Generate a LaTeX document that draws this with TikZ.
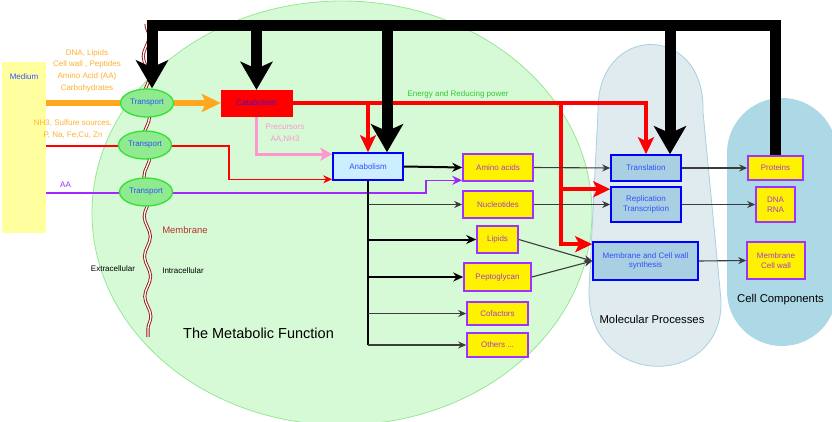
\documentclass[tikz,border=0pt]{standalone}
\usepackage{fontspec}
\setmainfont{Liberation Sans}
\usetikzlibrary{arrows.meta,shapes.geometric,decorations.pathmorphing,calc}
\pgfdeclarelayer{bg}
\pgfdeclarelayer{lines}
\pgfdeclarelayer{fg}
\pgfsetlayers{bg,lines,main,fg}
\definecolor{cellfill}{RGB}{214,250,214}
\definecolor{celldraw}{RGB}{150,232,150}
\definecolor{mpfill}{RGB}{223,235,239}
\definecolor{mpdraw}{RGB}{168,208,224}
\definecolor{ccfill}{RGB}{173,216,230}
\definecolor{mediumfill}{RGB}{255,255,160}
\definecolor{orangec}{RGB}{255,168,30}
\definecolor{orangetxt}{RGB}{255,176,50}
\definecolor{purplec}{RGB}{160,40,255}
\definecolor{prodborder}{RGB}{160,50,255}
\definecolor{prodtext}{RGB}{170,60,200}
\definecolor{proctext}{RGB}{50,80,255}
\definecolor{procfill}{RGB}{168,208,226}
\definecolor{anafill}{RGB}{204,238,255}
\definecolor{catatext}{RGB}{70,20,200}
\definecolor{trfill}{RGB}{144,234,144}
\definecolor{trdraw}{RGB}{50,225,50}
\definecolor{pinkc}{RGB}{255,150,210}
\definecolor{greentxt}{RGB}{50,200,50}
\definecolor{membc}{RGB}{150,20,20}
\definecolor{membtxt}{RGB}{180,50,50}
\definecolor{greyc}{RGB}{60,60,60}
\begin{document}
\begin{tikzpicture}[x=1pt,y=-1pt,
  fs/.style={font=\fontsize{8}{9.6}\selectfont},
  prod/.style={fs,draw=prodborder,fill=yellow,line width=1.6pt,text=prodtext,align=center,inner sep=0pt},
  proc/.style={fs,draw=blue,fill=procfill,line width=1.6pt,text=proctext,align=center,inner sep=0pt},
  transp/.style={ellipse,fs,draw=trdraw,fill=trfill,line width=1.3pt,minimum width=53pt,minimum height=28pt,text=proctext,inner sep=0pt},
  thinarr/.style={draw=greyc,line width=1.1pt,-{Stealth[length=8pt,width=7pt]}},
  thickarr/.style={draw=black,line width=2pt,-{Stealth[length=10pt,width=9pt]}},
  bus/.style={draw=black,line width=11pt,line join=miter},
  bustip/.style={-{Stealth[length=28pt,width=32pt,inset=7pt]}},
  energy/.style={draw=red,line width=4.5pt,line join=miter},
  redtip/.style={-{Stealth[length=17pt,width=16pt,inset=4pt]}},
  lbl/.style={fs,align=center,inner sep=0pt}]
\useasboundingbox (0,0) rectangle (832,422);

% background regions
\begin{pgfonlayer}{bg}
\begin{scope}
\clip (0,0) rectangle (832,422);
\fill[white] (0,0) rectangle (832,422);
\draw[fill=cellfill,draw=celldraw,line width=0.8pt] (342,213) ellipse [x radius=250pt, y radius=212pt];
\draw[fill=mpfill,draw=mpdraw,line width=0.8pt] (598,112) .. controls (596,22) and (706,22) .. (703,112)
  -- (721,300) .. controls (724,390) and (587,390) .. (589,290) -- cycle;
\fill[ccfill,rounded corners=55pt] (727,98) rectangle (837,346);
\end{scope}
\end{pgfonlayer}

\node[fill=mediumfill,minimum width=44pt,minimum height=171pt,inner sep=0pt] (medium) at (24,147.5) {};
\node[lbl,text=proctext] (mediumlbl) at (24,77) {Medium};

% nodes
\node[transp] (t1) at (147,103) {Transport};
\node[transp] (t2) at (145,145) {Transport};
\node[transp] (t3) at (146,192) {Transport};
\node[fs,fill=red,draw=red,minimum width=71pt,minimum height=26pt,inner sep=0pt,text=catatext] (cata) at (256.5,103) {Catabolism};
\node[proc,fill=anafill,minimum width=70pt,minimum height=27pt] (ana) at (368,166.5) {Anabolism};

\node[prod,minimum width=70pt,minimum height=27pt] (amino) at (498,167.5) {Amino acids};
\node[prod,minimum width=70pt,minimum height=27pt] (nuc) at (498,204.5) {Nucleotides};
\node[prod,minimum width=41pt,minimum height=27pt] (lip) at (497.5,239.5) {Lipids};
\node[prod,minimum width=67pt,minimum height=28pt] (pep) at (497.5,277) {Peptoglycan};
\node[prod,minimum width=61pt,minimum height=23pt] (cof) at (497.5,313.5) {Cofactors};
\node[prod,minimum width=61pt,minimum height=24pt] (oth) at (497.5,345) {Others ...};

\node[proc,minimum width=70pt,minimum height=26pt] (trans) at (646,168) {Translation};
\node[proc,minimum width=70pt,minimum height=35pt] (rep) at (646,204.5) {Replication\\Transcription};
\node[proc,minimum width=105pt,minimum height=38pt] (msyn) at (645.5,261) {Membrane and Cell wall\\synthesis};

\node[prod,minimum width=55pt,minimum height=24pt] (prot) at (775.5,168) {Proteins};
\node[prod,minimum width=39pt,minimum height=35pt] (dna) at (775.5,204.5) {DNA\\RNA};
\node[prod,minimum width=58pt,minimum height=37pt] (mcw) at (776,260.5) {Membrane\\Cell wall};

% text labels
\node[lbl,text=orangetxt,font=\fontsize{8}{11.7}\selectfont] (srcA) at (87,70.5) {DNA, Lipids\\Cell wall , Peptides\\Amino Acid (AA)\\Carbohydrates};
\node[lbl,text=orangetxt,font=\fontsize{8}{11.7}\selectfont] (srcB) at (73,129) {NH3, Sulfure sources,\\P, Na, Fe,Cu, Zn};
\node[lbl,text=purplec] (aalbl) at (65.5,185) {AA};
\node[lbl,text=pinkc,font=\fontsize{8}{11.5}\selectfont] (prec) at (285,133.5) {Precursors\\AA,NH3};
\node[lbl,text=greentxt] (energylbl) at (458,94) {Energy and Reducing power};
\node[lbl,text=membtxt,font=\fontsize{9.5}{11}\selectfont] (memblbl) at (185,230) {Membrane};
\node[lbl] (extra) at (113,269) {Extracellular};
\node[lbl] (intra) at (183,271) {Intracellular};
\node[lbl,font=\fontsize{14.5}{17}\selectfont] (metab) at (258.5,333) {The Metabolic Function};
\node[lbl,font=\fontsize{11.3}{13}\selectfont] (mplbl) at (652,319) {Molecular Processes};
\node[lbl,font=\fontsize{11.3}{13}\selectfont] (cclbl) at (780.5,300) {Cell Components};

% coordinates
\coordinate (busL) at (152,26);
\coordinate (busR) at (776,26);
\coordinate (rtop) at (561,103);
\coordinate (repin) at ([yshift=-3pt]rep.north west);
\coordinate (msynin) at ([yshift=-3pt]msyn.north west);
\coordinate (redturn) at (229,146);
\coordinate (purpturn) at (426,193);
\coordinate (anain) at ([yshift=1.5pt]ana.south west);
\coordinate (aminoin) at ([yshift=1.5pt]amino.south west);
\coordinate (pinkin) at ([yshift=-2pt]ana.north west);
\coordinate (anadrop) at ([xshift=19pt]ana.north);
\coordinate (transdrop) at ([xshift=24pt]trans.north);
\coordinate (membtop) at (146,24);
\coordinate (membbot) at (148,337);

% connectors
\begin{pgfonlayer}{lines}
\draw[membc,double=white,double distance=1.3pt,line width=0.9pt,decorate,decoration={snake,segment length=40pt,amplitude=3pt}] (membtop) -- (membbot);
\draw[orangec,line width=5.5pt,-{Stealth[length=19pt,width=18pt,inset=4pt]}] (medium.east |- t1) -- (t1) -- (cata.west);
\draw[red,line width=1.3pt,-{Stealth[length=9pt,width=8pt]}] (medium.east |- redturn) -- (redturn) -- (redturn |- anain) -- (anain);
\draw[purplec,line width=1.5pt,-{Stealth[length=10pt,width=9pt]}] (medium.east |- purpturn) -- (purpturn) -- (purpturn |- aminoin) -- (aminoin);
\draw[pinkc,line width=3pt,-{Stealth[length=12pt,width=13pt,inset=3pt]}] (cata.south) -- (cata.south |- pinkin) -- (pinkin);

\draw[energy,redtip] (cata.east) -- (cata.east -| trans.north) -- (trans.north);
\draw[energy,redtip] (cata.east -| ana.north) -- (ana.north);
\draw[energy,redtip] (rtop) -- (rtop |- msynin) -- (msynin);
\draw[energy,redtip] (rtop |- repin) -- (repin);

\draw[thickarr] (ana.east) -- (amino.west);
\draw[black,line width=2pt] (ana.south) -- (ana.south |- oth.west);
\draw[thinarr] (ana.south |- nuc.west) -- (nuc.west);
\draw[thickarr] (ana.south |- lip.west) -- (lip.west);
\draw[thickarr] (ana.south |- pep.west) -- (pep.west);
\draw[thinarr] (ana.south |- cof.west) -- (cof.west);
\draw[thinarr] (ana.south |- oth.west) -- (oth.west);

\draw[thinarr] (amino.east) -- (trans.west);
\draw[thinarr] (nuc.east) -- (rep.west);
\draw[thinarr] (lip.east) -- (msyn.west);
\draw[thinarr] (pep.east) -- (msyn.west);
\draw[thinarr] (trans.east) -- (prot.west);
\draw[thinarr] (rep.east) -- (dna.west);
\draw[thinarr] (msyn.east) -- (mcw.west);
\end{pgfonlayer}

% black control bus
\begin{pgfonlayer}{fg}
\draw[bus,bustip] (prot.north) -- (prot.north |- busR) -- (busL) -- (busL |- t1.north);
\draw[bus,bustip] (cata.north |- busL) -- (cata.north);
\draw[bus,bustip] (anadrop |- busL) -- (anadrop);
\draw[bus,bustip] (transdrop |- busL) -- (transdrop);
\end{pgfonlayer}
\end{tikzpicture}
\end{document}
